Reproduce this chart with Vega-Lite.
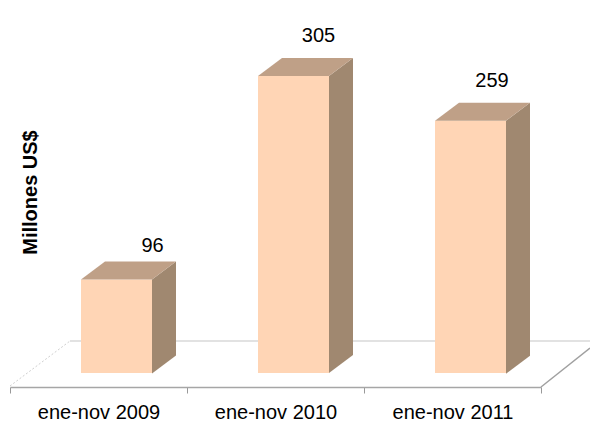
{
"$schema":"https://vega.github.io/schema/vega-lite/v6.json",
"width":531,"height":353,
"autosize":{"type":"none"},
"padding":{"left":10,"top":20,"right":49,"bottom":48},
"background":"white",
"config":{"view":{"stroke":null},"font":"Liberation Sans"},
"data":{"values":[
{"periodo":"ene-nov 2009","valor":96},
{"periodo":"ene-nov 2010","valor":305},
{"periodo":"ene-nov 2011","valor":259}]},
"encoding":{
"x":{"field":"periodo","type":"nominal","sort":null,"title":null,
"scale":{"paddingInner":0,"paddingOuter":0},
"axis":{"orient":"bottom","offset":14,"tickBand":"extent","labelAngle":0,"tickSize":6,"tickColor":"#999999","domainColor":"#a6a6a6","domainWidth":1.5,"tickWidth":1,"labelFont":"Liberation Sans","labelFontSize":20,"labelColor":"#000000","labelPadding":9}},
"y":{"field":"valor","type":"quantitative","title":"Millones US$",
"scale":{"domain":[0,362.5],"nice":false},
"axis":{"domain":false,"ticks":false,"labels":false,"grid":false,"titleFont":"Liberation Sans","titleFontSize":20,"titleFontWeight":"bold","titleColor":"#000000","titleX":20,"titleY":172,"titleAngle":-90,"titleAlign":"center","titleBaseline":"middle"}}
},
"layer":[
{"transform":[{"filter":"datum.valor==96"}],
"mark":{"type":"point","shape":"M-28.5 -32 L491.5 -32","size":4,"filled":false,"stroke":"#e2e2e2","strokeWidth":2,"opacity":1},
"encoding":{"y":{"datum":0}}},
{"transform":[{"filter":"datum.valor==96"}],
"mark":{"type":"point","shape":"M-88.5 13 L-28.5 -32","size":4,"filled":false,"stroke":"#d0d0d0","strokeWidth":1,"strokeDash":[2,2],"opacity":1},
"encoding":{"y":{"datum":0}}},
{"transform":[{"filter":"datum.valor==96"}],
"mark":{"type":"point","shape":"M442.5 14 L491.5 -25","size":4,"filled":false,"stroke":"#a0a0a0","strokeWidth":1.5,"opacity":1},
"encoding":{"y":{"datum":0}}},
{"mark":{"type":"bar","width":71,"xOffset":18,"fill":"#FFD5B5"}},
{"mark":{"type":"point","size":4,"filled":true,"xOffset":18,"fill":"#A08870","stroke":null,"opacity":1},
"encoding":{"shape":{"field":"periodo","type":"nominal","legend":null,
"scale":{"domain":["ene-nov 2009","ene-nov 2010","ene-nov 2011"],
"range":["M35.5 0 L59.5 -18 L59.5 76 L35.5 94 Z","M35.5 0 L59.5 -18 L59.5 279 L35.5 297 Z","M35.5 0 L59.5 -18 L59.5 235 L35.5 253 Z"]}}}},
{"mark":{"type":"point","size":4,"filled":true,"xOffset":18,"fill":"#BFA087","stroke":null,"opacity":1,"shape":"M-35.5 0 L-11.5 -18 L59.5 -18 L35.5 0 Z"}},
{"transform":[{"filter":"datum.valor==96"}],
"mark":{"type":"text","xOffset":54,"yOffset":-34,"fontSize":20,"font":"Liberation Sans","color":"#000000"},
"encoding":{"text":{"field":"valor","type":"quantitative"}}},
{"transform":[{"filter":"datum.valor==305"}],
"mark":{"type":"text","xOffset":43,"yOffset":-40,"fontSize":20,"font":"Liberation Sans","color":"#000000"},
"encoding":{"text":{"field":"valor","type":"quantitative"}}},
{"transform":[{"filter":"datum.valor==259"}],
"mark":{"type":"text","xOffset":39.5,"yOffset":-40,"fontSize":20,"font":"Liberation Sans","color":"#000000"},
"encoding":{"text":{"field":"valor","type":"quantitative"}}}
]
}
